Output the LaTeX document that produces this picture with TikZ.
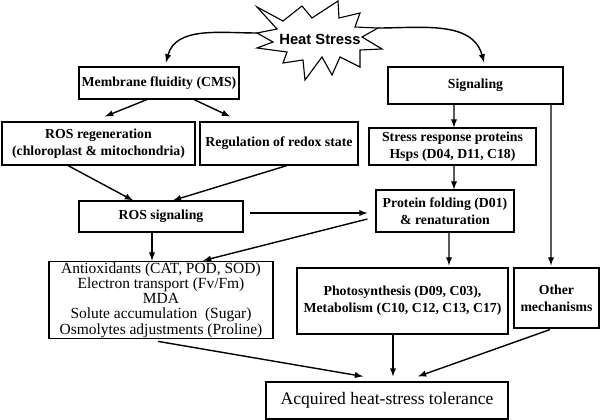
\documentclass[tikz,border=0pt]{standalone}
\usepackage{fontspec}
\setmainfont{Liberation Serif}
\newfontfamily\heatfont{Liberation Sans}
\usetikzlibrary{calc,arrows}

\tikzset{
  box/.style={draw, line width=0.8pt, align=center, inner sep=1pt,
    font=\fontsize{9.8}{12}\selectfont\bfseries},
  plainbox/.style={box, font=\fontsize{11}{10.8}\selectfont},
  link/.style={->, >=latex, line width=1pt},
}

\begin{document}
\begin{tikzpicture}[x=0.025cm, y=-0.025cm]
\useasboundingbox (0,0) rectangle (600,420);

% the stress
\node[inner sep=0pt, font=\heatfont\fontsize{10.5}{12}\selectfont\bfseries] (heat) at (320,39) {Heat Stress};
\draw[line width=0.8pt] (257,33) -- (277,29) -- (257,7) -- (283,21) -- (302,6) -- (312,18)
  -- (338,1) -- (339,18) -- (360,13) -- (355,27) -- (378,28) -- (362,37) -- (382,49)
  -- (360,50) -- (360,67) -- (340,57) -- (332,75) -- (322,57) -- (305,80) -- (303,60)
  -- (283,63) -- (287,52) -- (257,48) -- (273,42) -- cycle;

% left branch
\node[box, minimum width=4cm, minimum height=0.8cm] (memb) at (159,83) {Membrane fluidity (CMS)};
\node[box, minimum width=4.825cm, minimum height=1.075cm] (rosreg) at (98.5,143.5) {ROS regeneration\\(chloroplast \& mitochondria)};
\node[box, minimum width=3.95cm, minimum height=1.075cm] (redox) at (279,143.5) {Regulation of redox state};
\node[box, minimum width=4.1cm, minimum height=0.775cm] (rossig) at (161,216.5) {ROS signaling};
\node[plainbox, minimum width=5.6cm, minimum height=1.9cm] (anti) at (161,300) {Antioxidants (CAT, POD, SOD)\\Electron transport (Fv/Fm)\\MDA\\Solute accumulation \ (Sugar)\\Osmolytes adjustments (Proline)};

% right branch
\node[box, minimum width=4.375cm, minimum height=0.925cm] (sig) at (475.5,85.5) {Signaling};
\node[box, minimum width=4.175cm, minimum height=0.925cm] (srp) at (452.5,146.5) {Stress response proteins\\Hsps (D04, D11, C18)};
\node[box, minimum width=3.45cm, minimum height=1.05cm] (fold) at (445,211) {Protein folding (D01)\\\& renaturation};
\node[box, minimum width=5.275cm, minimum height=1.65cm] (photo) at (402.5,301) {Photosynthesis (D09, C03),\\Metabolism (C10, C12, C13, C17)};
\node[box, minimum width=2.125cm, minimum height=1.5cm] (other) at (556.5,298) {Other\\mechanisms};

% outcome
\node[box, minimum width=6.05cm, minimum height=0.925cm, font=\fontsize{12.5}{14}\selectfont] (acq) at (387,400.5) {Acquired heat-stress tolerance};

% arrows
\draw[link] ($(heat.center)+(-63,-6)$) to[out=180, in=75] ($(memb.north)+(7,-4)$);
\draw[link] ($(heat.center)+(58,-11)$) to[out=0, in=105] ($(sig.north)+(8.5,-4)$);
\draw[link] ($(memb.south)+(-12,0)$) -- ($(rosreg.north)+(6.5,-5)$);
\draw[link] ($(memb.south)+(35,0)$) -- ($(redox.north)+(-49,-5)$);
\draw[link] ($(rosreg.south)+(-30.5,0)$) -- ($(rossig.north)+(-28,0)$);
\draw[link] ($(redox.south)+(8,0)$) -- ($(rossig.north)+(12,0)$);
\draw[link] ($(sig.south)+(-21.5,0)$) -- ($(srp.north)+(1.5,0)$);
\draw[link] ($(sig.south)+(75.5,0)$) -- ($(other.north)+(-5.5,-2)$);
\draw[link] ($(srp.south)+(1.5,0)$) -- ($(fold.north)+(9,0)$);
\draw[link] ($(rossig.east)+(6,-3.5)$) -- ($(fold.west)+(-8,2)$);
\draw[link] ($(fold.west)+(-8,8)$) -- ($(anti.north)+(42,0)$);
\draw[link] ($(rossig.south)+(-9,0)$) -- ($(anti.north)+(-9,0)$);
\draw[link] ($(fold.south)+(4,0)$) -- ($(photo.north)+(46.5,-2)$);
\draw[link] ($(anti.south)+(-3,2)$) -- ($(acq.north)+(-24,-5)$);
\draw[link] ($(photo.south)+(-9.5,0)$) -- ($(acq.north)+(6,-5)$);
\draw[link] ($(other.south)+(-6.5,1)$) -- ($(acq.north)+(31,-5)$);
\end{tikzpicture}
\end{document}
